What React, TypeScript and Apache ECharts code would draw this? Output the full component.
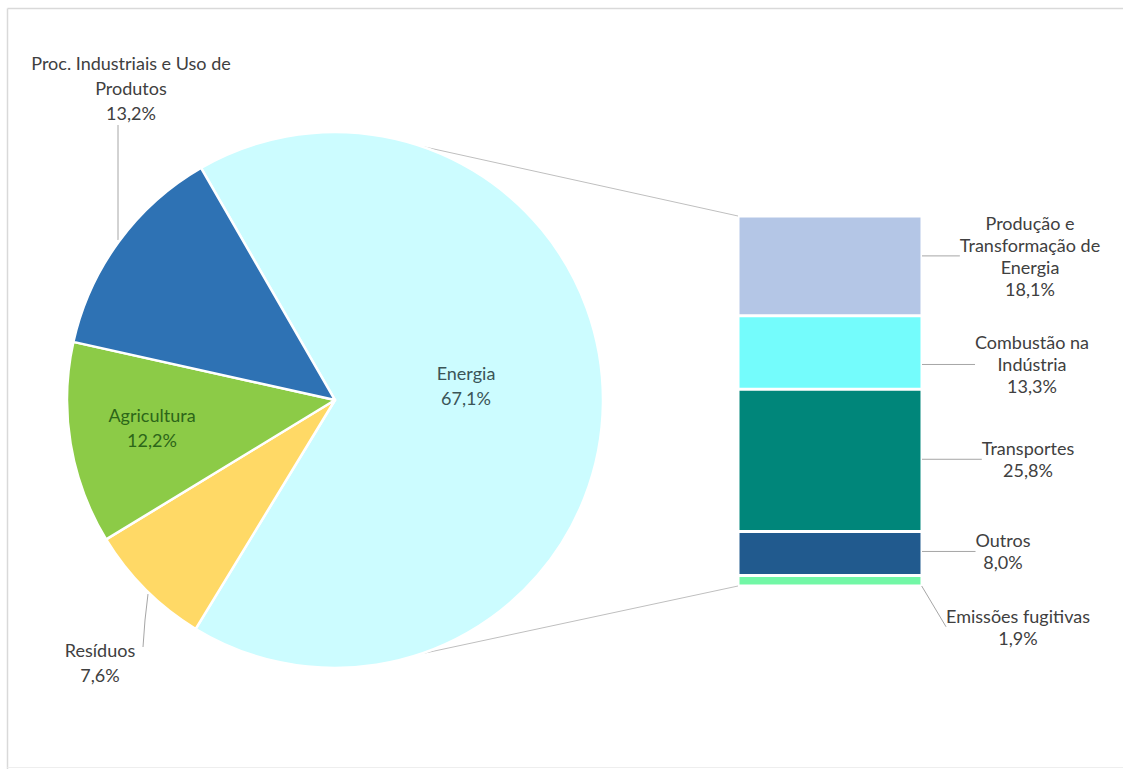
import React, { useEffect, useRef } from "react";
import * as echarts from "echarts";

// ---- data ----
const pieNames = ["Energia", "Resíduos", "Agricultura", "Proc. Industriais e Uso de Produtos"];
const pieLabelText = ["Energia", "Resíduos", "Agricultura", "Proc. Industriais e Uso de\nProdutos"];
const pieValues = [67.1, 7.6, 12.2, 13.2];
const pieColors = ["#CCFCFF", "#FFD966", "#8CCB47", "#2E72B4"];

const barNames = ["Produção e Transformação de Energia", "Combustão na Indústria", "Transportes", "Outros", "Emissões fugitivas"];
const barLabelText = ["Produção e\nTransformação de\nEnergia", "Combustão na\nIndústria", "Transportes", "Outros", "Emissões fugitivas"];
const barValues = [18.1, 13.3, 25.8, 8.0, 1.9];
const barColors = ["#B4C6E6", "#74FCFC", "#00867A", "#215A8E", "#72F7A6"];

// ---- layout ----
const CX = 335, CY = 400, R = 268;
const BAR_L = 738, BAR_R = 922, BAR_T = 216, BAR_B = 586;
const W = 1123, H = 769;

const fmt = (v: number) => v.toFixed(1).replace(".", ",") + "%";

// pie label offsets relative to the center
const pieLabelPos = [
  { dx: 131, dy: -15 },
  { dx: -235, dy: 262, line: [[-187, 194], [-190, 220], [-192, 247]] },
  { dx: -183, dy: 27 },
  { dx: -204, dy: -312, line: [[-217, -160], [-217, -200], [-217, -275]] },
];
const pieLabelColor = ["#3B5557", "#404040", "#2C6619", "#404040"];

// bar label offsets relative to segment right-edge / middle
const barLabelPos = [
  { dx: 108, dy: -10, line: [[1, -2], [8, -20], [26, -21]] },
  { dx: 110, dy: 12, line: [[3, 6], [9, 6], [16, 6]] },
  { dx: 106, dy: -1, line: [[1, 2], [26, 0], [51, -3]] },
  { dx: 81, dy: -2, line: [[1, 0], [23, -2], [45, -5]] },
  { dx: 96, dy: 46, line: [[1, 3], [4, 45], [15, 45]] },
];

const FONT = "Lato, 'Open Sans', sans-serif";

export default function App() {
  const ref = useRef<HTMLDivElement>(null);
  useEffect(() => {
    const chart = echarts.init(ref.current!, null, { renderer: "svg" });
    const toRad = (d: number) => (d * Math.PI) / 180;
    const a1 = 18.7, a2 = 161.4;
    const frame = { stroke: "#D9D9D9", lineWidth: 1.5 };
    const option: any = {
      animation: false,
      backgroundColor: "#ffffff",
      grid: { left: BAR_L, right: W - BAR_R, top: BAR_T, bottom: H - BAR_B },
      xAxis: { type: "category", data: ["Energia"], show: false },
      yAxis: { type: "value", inverse: true, min: 0, max: 67.1, show: false },
      graphic: [
        { type: "line", shape: { x1: 7.5, y1: 8.5, x2: W, y2: 8.5 }, style: frame, silent: true },
        { type: "line", shape: { x1: 7.5, y1: 8.5, x2: 7.5, y2: H }, style: frame, silent: true },
        { type: "line", shape: { x1: 7.5, y1: H - 1.5, x2: W, y2: H - 1.5 }, style: { stroke: "#EEEEEE", lineWidth: 1 }, silent: true },
        {
          type: "line",
          shape: { x1: CX + R * Math.sin(toRad(a1)), y1: CY - R * Math.cos(toRad(a1)), x2: BAR_L, y2: BAR_T },
          style: { stroke: "#BFBFBF", lineWidth: 1 },
        },
        {
          type: "line",
          shape: { x1: CX + R * Math.sin(toRad(a2)), y1: CY - R * Math.cos(toRad(a2)), x2: BAR_L, y2: BAR_B },
          style: { stroke: "#BFBFBF", lineWidth: 1 },
        },
      ],
      series: [
        {
          type: "pie",
          center: [CX, CY],
          radius: R,
          startAngle: 120,
          clockwise: true,
          data: pieNames.map((n, i) => ({
            name: n,
            value: pieValues[i],
            itemStyle: { color: pieColors[i] },
            label: { color: pieLabelColor[i] },
            labelLine: { show: !!pieLabelPos[i].line },
          })),
          itemStyle: { borderColor: "#ffffff", borderWidth: 2.5 },
          label: {
            show: true,
            position: "outside",
            fontFamily: FONT,
            fontSize: 18,
            lineHeight: 25,
            align: "center",
            overflow: "none",
            formatter: (p: any) => pieLabelText[p.dataIndex] + "\n" + fmt(p.value),
          },
          labelLine: { lineStyle: { color: "#A6A6A6", width: 1 } },
          labelLayout: (p: any) => {
            const c = pieLabelPos[p.dataIndex];
            const res: any = { x: CX + c.dx, y: CY + c.dy, align: "center", verticalAlign: "middle", width: 400 };
            if (c.line) res.labelLinePoints = c.line.map(([x, y]) => [CX + x, CY + y]);
            return res;
          },
        },
        ...barNames.map((n, i) => ({
          type: "bar",
          name: n,
          stack: "energia",
          barWidth: "100%",
          data: [barValues[i]],
          itemStyle: { color: barColors[i], borderColor: "#ffffff", borderWidth: 1.5 },
          label: {
            show: true,
            position: "right",
            fontFamily: FONT,
            fontSize: 18,
            lineHeight: 22,
            color: "#404040",
            align: "center",
            formatter: () => barLabelText[i] + "\n" + fmt(barValues[i]),
          },
          labelLine: { show: true, lineStyle: { color: "#A6A6A6", width: 1 } },
          labelLayout: (p: any) => {
            const c = barLabelPos[i];
            const xr = p.rect.x + p.rect.width;
            const ym = p.rect.y + p.rect.height / 2;
            return {
              x: xr + c.dx,
              y: ym + c.dy,
              align: "center",
              verticalAlign: "middle",
              labelLinePoints: c.line.map(([x, y]) => [xr + x, ym + y]),
            };
          },
        })),
      ],
    };
    chart.setOption(option);
    return () => chart.dispose();
  }, []);
  return <div ref={ref} style={{ position: "fixed", left: 0, top: 0, width: W, height: H }} />;
}
